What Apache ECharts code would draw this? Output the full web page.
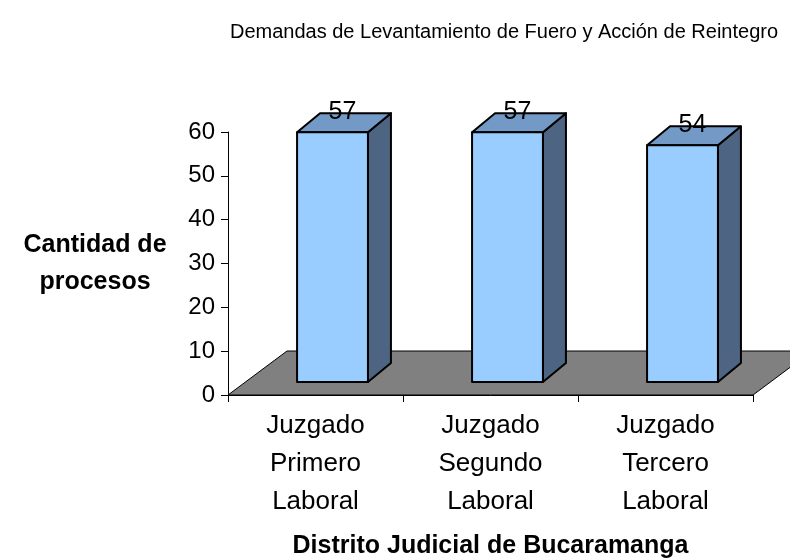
<!DOCTYPE html>
<html>
<head>
<meta charset="utf-8">
<script src="https://cdn.jsdelivr.net/npm/echarts@6/dist/echarts.min.js"></script>
<style>
  html, body { margin: 0; padding: 0; background: #fff; }
  #chart { width: 790px; height: 559px; }
</style>
</head>
<body>
<div id="chart"></div>
<script>
const categories = ['Juzgado\nPrimero\nLaboral', 'Juzgado\nSegundo\nLaboral', 'Juzgado\nTercero\nLaboral']
const values = [57, 57, 54]

const FONT = '"Liberation Sans", Arial, sans-serif'
// 3D look: shift of the bar front face and depth of bars / floor (px)
const shiftX = 17, shiftY = 13
const depthX = 23, depthY = 19
const floorX = 59, floorY = 44

const chart = echarts.init(document.getElementById('chart'), null, { renderer: 'canvas' })

// bars drawn as a front face + side + top
const renderBar = (params, api) => {
  const idx = api.value(0)
  const base = api.coord([idx, 0])
  const top = api.coord([idx, api.value(1)])
  const w = api.size([1, 0])[0] * 0.405
  const x0 = base[0] + shiftX - w / 2
  const x1 = x0 + w
  const yb = base[1] - shiftY
  const yt = top[1] - shiftY
  const line = { stroke: '#000', lineWidth: 2, lineJoin: 'round' }
  return {
    type: 'group',
    children: [
      {
        type: 'polygon',
        shape: { points: [[x1, yt], [x1 + depthX, yt - depthY], [x1 + depthX, yb - depthY], [x1, yb]] },
        style: Object.assign({ fill: '#4d6482' }, line)
      },
      {
        type: 'polygon',
        shape: { points: [[x0, yt], [x1, yt], [x1 + depthX, yt - depthY], [x0 + depthX, yt - depthY]] },
        style: Object.assign({ fill: '#7399c6' }, line)
      },
      {
        type: 'rect',
        shape: { x: x0, y: yt, width: w, height: yb - yt },
        style: Object.assign({ fill: '#99ccff' }, line)
      },
      {
        type: 'text',
        x: (x0 + x1) / 2 + 10,
        y: yt - 20,
        style: {
          text: String(api.value(1)),
          fill: '#000',
          font: '25px ' + FONT,
          align: 'center',
          verticalAlign: 'middle'
        }
      }
    ]
  }
}

// grey floor under the bars
const renderFloor = (params, api) => {
  const cs = params.coordSys
  const yb = cs.y + cs.height
  return {
    type: 'polygon',
    shape: {
      points: [[cs.x, yb], [cs.x + cs.width, yb], [cs.x + cs.width + floorX, yb - floorY], [cs.x + floorX, yb - floorY]]
    },
    style: { fill: '#808080', stroke: '#000', lineWidth: 1 }
  }
}

const option = {
  animation: false,
  backgroundColor: '#fff',
  title: {
    text: 'Demandas de Levantamiento de Fuero y Acción de Reintegro',
    left: 499,
    top: 17,
    textAlign: 'center',
    textStyle: { fontFamily: FONT, fontSize: 20, fontWeight: 'normal', color: '#000' }
  },
  grid: { left: 228, right: 37, top: 132, bottom: 164, outerBoundsMode: 'none', containLabel: false },
  xAxis: {
    type: 'category',
    data: categories,
    name: 'Distrito Judicial de Bucaramanga',
    nameLocation: 'middle',
    nameGap: 139,
    nameTextStyle: { fontFamily: FONT, fontSize: 25, fontWeight: 'bold', color: '#000' },
    axisLine: { show: true, lineStyle: { color: '#000', width: 1 } },
    axisTick: { show: true, length: 7, lineStyle: { color: '#000' } },
    axisLabel: { fontFamily: FONT, fontSize: 26, color: '#000', lineHeight: 38, margin: 12, interval: 0 },
    splitLine: { show: false }
  },
  yAxis: {
    type: 'value',
    min: 0,
    max: 60,
    interval: 10,
    name: 'Cantidad de\nprocesos',
    nameLocation: 'middle',
    nameRotate: 0,
    nameGap: 133,
    nameTextStyle: { fontFamily: FONT, fontSize: 25, fontWeight: 'bold', color: '#000', lineHeight: 37, align: 'center' },
    axisLine: { show: true, lineStyle: { color: '#000', width: 1 } },
    axisTick: { show: true, length: 7, lineStyle: { color: '#000' } },
    axisLabel: { fontFamily: FONT, fontSize: 24, color: '#000', margin: 13 },
    splitLine: { show: false }
  },
  series: [
    {
      type: 'custom',
      renderItem: renderFloor,
      data: [[0, 0]],
      clip: false,
      z: 1,
      silent: true
    },
    {
      type: 'custom',
      renderItem: renderBar,
      data: values.map((v, i) => [i, v]),
      encode: { x: 0, y: 1 },
      clip: false,
      z: 3
    }
  ]
}

chart.setOption(option)
</script>
</body>
</html>
